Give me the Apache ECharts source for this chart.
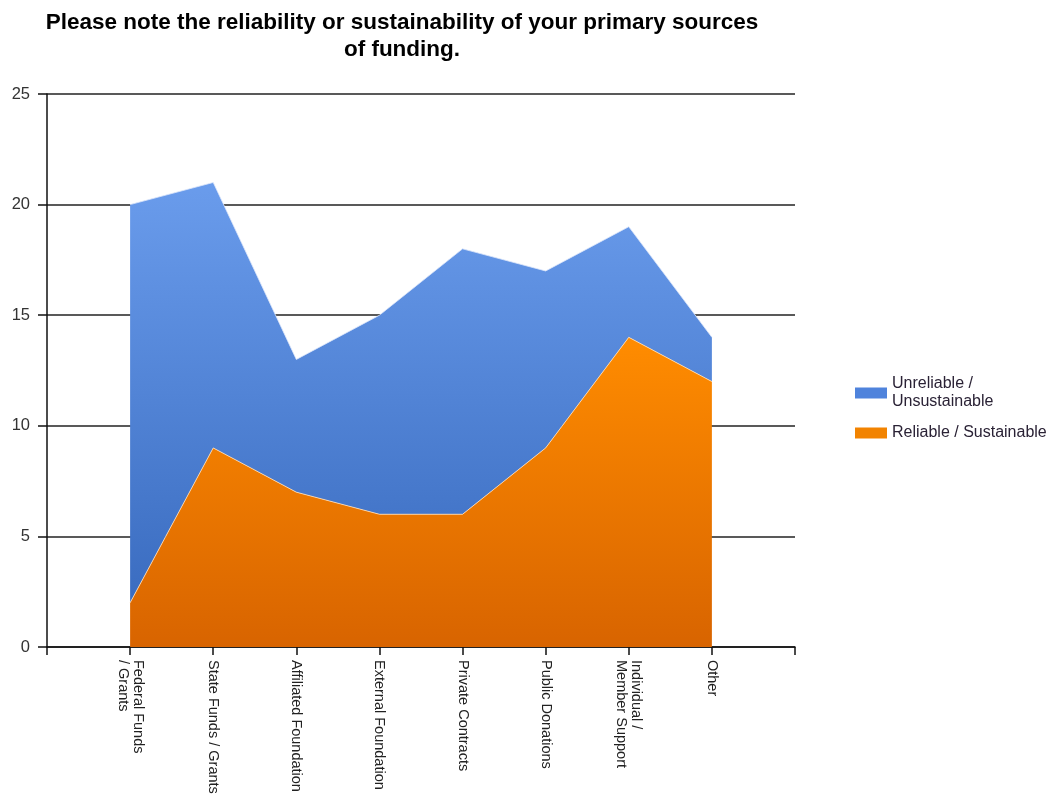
<!DOCTYPE html>
<html>
<head>
<meta charset="utf-8">
<script src="https://cdn.jsdelivr.net/npm/echarts@6/dist/echarts.min.js"></script>
<style>
  html, body { margin: 0; padding: 0; background: #fff; }
  #chart { width: 1051px; height: 797px; }
</style>
</head>
<body>
<div id="chart"></div>
<script>
// Funding sources (blank slots pad each end of the category axis)
const categories = ['', 'Federal Funds\n/ Grants', 'State Funds / Grants', 'Affiliated Foundation',
  'External Foundation', 'Private Contracts', 'Public Donations', 'Individual /\nMember Support', 'Other', ''];
const reliable = [null, 2, 9, 7, 6, 6, 9, 14, 12, null];
const unreliable = [null, 18, 12, 6, 9, 12, 8, 5, 2, null];
const yTicks = { min: 0, max: 25, interval: 5 };

const chart = echarts.init(document.getElementById('chart'), null, { renderer: 'canvas' });

const font = 'Liberation Sans, Arial, sans-serif';

chart.setOption({
  animation: false,
  title: {
    text: 'Please note the reliability or sustainability of your primary sources\nof funding.',
    left: 397,
    top: 4,
    textAlign: 'center',
    textStyle: { fontFamily: font, fontSize: 22.5, fontWeight: 'bold', color: '#000', lineHeight: 27 }
  },
  legend: {
    orient: 'vertical',
    left: 855,
    top: 375,
    padding: 0,
    itemWidth: 32,
    itemHeight: 11,
    itemGap: 13,
    data: ['Unreliable /\nUnsustainable', 'Reliable / Sustainable'],
    textStyle: { fontFamily: font, fontSize: 16, color: '#2a2235', lineHeight: 18 },
    icon: 'rect'
  },
  grid: { left: 47, right: 256, top: 94, bottom: 150, containLabel: false },
  xAxis: {
    type: 'category',
    data: categories,
    boundaryGap: false,
    axisLine: { lineStyle: { color: '#111', width: 1.5 } },
    axisTick: { show: true, length: 8, alignWithLabel: true, lineStyle: { color: '#111', width: 1.5 } },
    axisLabel: {
      rotate: -90,
      interval: 0,
      margin: 13,
      fontFamily: font,
      fontSize: 14.5,
      color: '#222',
      lineHeight: 15
    },
    splitLine: { show: false }
  },
  yAxis: {
    type: 'value',
    min: yTicks.min,
    max: yTicks.max,
    interval: yTicks.interval,
    axisLine: { show: true, lineStyle: { color: '#111', width: 1.5 } },
    axisTick: { show: true, length: 9, lineStyle: { color: '#111', width: 1.5 } },
    axisLabel: { fontFamily: font, fontSize: 16.5, color: '#333', margin: 17 },
    splitLine: { show: true, lineStyle: { color: '#222', width: 1.5 } }
  },
  series: [
    {
      name: 'Reliable / Sustainable',
      type: 'line',
      stack: 'total',
      data: reliable,
      symbol: 'none',
      lineStyle: { color: 'rgba(255,225,190,0.8)', width: 1 },
      itemStyle: { color: '#f28300' },
      areaStyle: {
        opacity: 1,
        color: new echarts.graphic.LinearGradient(0, 0, 0, 1, [
          { offset: 0, color: '#ff8c00' },
          { offset: 1, color: '#d86400' }
        ])
      },
      z: 3
    },
    {
      name: 'Unreliable /\nUnsustainable',
      type: 'line',
      stack: 'total',
      data: unreliable,
      symbol: 'none',
      lineStyle: { color: 'rgba(220,230,250,0.8)', width: 1 },
      itemStyle: { color: '#4f83dc' },
      areaStyle: {
        opacity: 1,
        color: new echarts.graphic.LinearGradient(0, 0, 0, 1, [
          { offset: 0, color: '#6a9cec' },
          { offset: 1, color: '#3a6cc0' }
        ])
      },
      z: 2
    }
  ]
});
</script>
</body>
</html>
